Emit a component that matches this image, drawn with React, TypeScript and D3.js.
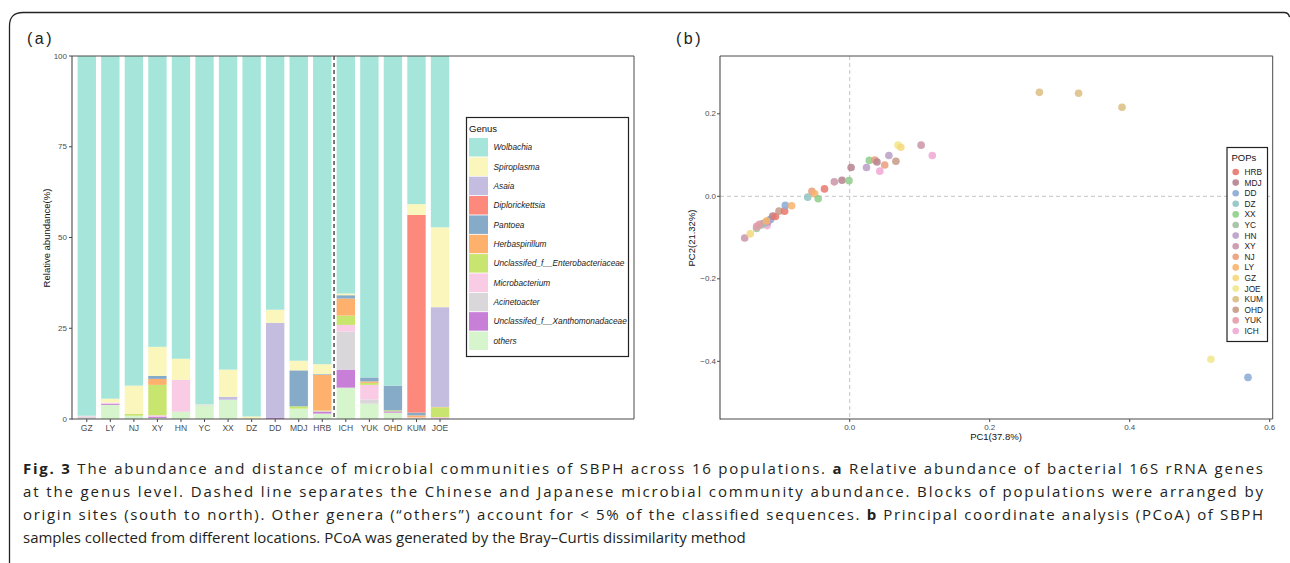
import React from "react";
import * as d3 from "d3";

// ---------- Panel (a) data ----------
const populations = ["GZ","LY","NJ","XY","HN","YC","XX","DZ","DD","MDJ","HRB","ICH","YUK","OHD","KUM","JOE"];
const genera = ["Wolbachia","Spiroplasma","Asaia","Diplorickettsia","Pantoea","Herbaspirillum","Unclassifed_f__Enterobacteriaceae","Microbacterium","Acinetoacter","Unclassifed_f__Xanthomonadaceae","others"];
const genusColors = ["#a6e5d9","#fbf6bb","#c4bde0","#fd887c","#86abc9","#fdb16c","#c8e570","#f9cbe4","#d9d7da","#c77fd8","#d7f5cc"];

const wolbachia     = [99.1,94.4,90.8,80.12,83.4,96.0,86.4,99.3,69.9,83.95,84.9,65.44,88.55,90.8,40.8,47.2];
const spiroplasma   = [0,1.1,7.75,8.0,5.8,0.15,7.5,0.6,3.6,2.65,2.75,0.46,0,0,3.0,22.0];
const asaia         = [0,0,0,0,0,0,0.8,0,26.2,0,0,0,0,0,0,27.3];
const diplorickettsia=[0,0,0,0,0,0,0,0,0,0,0,0,0,0,54.45,0];
const pantoea       = [0,0,0,0.83,0,0,0,0,0,9.9,0.2,0.92,1.1,6.8,0.75,0.15];
const herbaspirillum= [0,0,0,1.65,0,0,0,0,0,0,9.8,4.69,0.4,0,0.55,0.15];
const enterobact    = [0,0,0.55,8.36,0,0,0,0,0,0.65,0.2,2.57,0.55,0.3,0,2.7];
const microbacterium= [0.2,0.3,0,0.37,8.8,0,0,0,0,0,0.1,1.84,4.0,0,0.2,0.4];
const acinetoacter  = [0.7,0,0,0,0,0.15,0,0,0,0,0,10.48,1.2,0,0,0];
const xanthomonad   = [0,0.3,0,0.37,0,0,0,0,0.3,0,0.55,4.96,0,0.35,0,0];
const others        = [0,3.9,0.9,0.3,2.0,3.7,5.3,0.1,0,2.85,1.5,8.64,4.2,1.75,0.25,0.1];

const genusSeries = [wolbachia,spiroplasma,asaia,diplorickettsia,pantoea,herbaspirillum,enterobact,microbacterium,acinetoacter,xanthomonad,others];
const yTicksA = [0,25,50,75,100];

// ---------- Panel (b) data ----------
const popNames = ["HRB","MDJ","DD","DZ","XX","YC","HN","XY","NJ","LY","GZ","JOE","KUM","OHD","YUK","ICH"];
const popColors = ["#e8776c","#b5828f","#88a9d3","#8fc4c1","#8ece8b","#a3bfa1","#b99dc6","#c994a9","#eb9d7a","#f8b36c","#f5d87b","#f1e78b","#dcbd80","#c69a85","#e49aa9","#f1a7d3"];

const samplePop = [
  "KUM","KUM","KUM","JOE","DD",
  "XY","GZ","YC","YUK","OHD","ICH","GZ","DD","MDJ","HRB","OHD","HRB","DD","LY","DZ","DZ","HN",
  "NJ","LY","XX","HRB","XY","MDJ","XX","MDJ","HN","XX","NJ","MDJ","ICH","NJ","HN","OHD","JOE","GZ","XY","ICH","YC","YUK","LY"
];
const samplePC1 = [
  0.271,0.327,0.389,0.516,0.569,
  -0.150,-0.142,-0.133,-0.133,-0.124,-0.118,-0.116,-0.113,-0.110,-0.106,-0.101,-0.093,-0.092,-0.083,-0.060,-0.121,-0.117,
  -0.054,-0.050,-0.045,-0.036,-0.022,-0.011,-0.001,0.002,0.024,0.028,0.036,0.039,0.043,0.050,0.056,0.066,0.069,0.073,0.102,0.118,-0.127,-0.129,-0.119
];
const samplePC2 = [
  0.252,0.250,0.216,-0.395,-0.439,
  -0.101,-0.091,-0.078,-0.073,-0.066,-0.071,-0.058,-0.056,-0.048,-0.049,-0.036,-0.036,-0.022,-0.023,-0.002,-0.065,-0.062,
  0.012,0.006,-0.006,0.018,0.035,0.039,0.038,0.070,0.070,0.087,0.088,0.083,0.061,0.076,0.099,0.085,0.124,0.119,0.124,0.099,-0.070,-0.068,-0.060
];
const xTicksB = [0.0,0.2,0.4,0.6];
const yTicksB = [-0.4,-0.2,0.0,0.2];

const FONT = "'Liberation Sans', Arial, sans-serif";

export default function App() {
  // ----- panel a scales -----
  const xA = d3.scaleBand<string>().domain(populations).range([75, 451.8]).paddingInner(0.22).paddingOuter(0.11);
  const yA = d3.scaleLinear().domain([0, 100]).range([419, 56]);
  const rows = populations.map((p, i) => {
    const r: any = { pop: p };
    genera.forEach((g, k) => { r[g] = genusSeries[k][i]; });
    return r;
  });
  const stackKeys = [...genera].reverse();
  const stacked = d3.stack<any>().keys(stackKeys)(rows);
  const colorOf = (g: string) => genusColors[genera.indexOf(g)];
  const sepX = ((xA("HRB") as number) + xA.bandwidth() / 2 + (xA("ICH") as number) + xA.bandwidth() / 2) / 2;

  // ----- panel b scales -----
  const xB = d3.scaleLinear().domain([0, 0.2]).range([849.7, 989.7]);
  const yB = d3.scaleLinear().domain([0, 0.2]).range([196.3, 113.8]);
  const bL = 720, bR = 1272.7, bT = 56, bB = 419;
  const popColor = (p: string) => popColors[popNames.indexOf(p)];

  const axisCol = "#4a4a4a";
  const tickTxt = "#4d4d4d";

  return (
    <svg width={1290} height={563} style={{ position: "absolute", left: 0, top: 0, background: "#fff" }} fontFamily={FONT}>
      <rect x={0} y={0} width={1290} height={563} fill="#fff" />
      <path d="M9.5,563 L9.5,26 Q9.5,12.5 23,12.5 L1284,12.5 Q1288.5,12.5 1289.5,17" fill="none" stroke="#222" strokeWidth={1.3} />

      {/* ================= Panel a ================= */}
      <text x={27} y={44} fontSize={16} fill="#222" letterSpacing={2.5}>(a)</text>
      {stacked.map((layer) => (
        <g key={layer.key} fill={colorOf(layer.key)}>
          {layer.map((d, i) => {
            const h = yA(d[0]) - yA(d[1]);
            if (h <= 0) return null;
            return <rect key={i} x={xA(populations[i])} y={yA(d[1])} width={xA.bandwidth()} height={h} />;
          })}
        </g>
      ))}
      <line x1={sepX} x2={sepX} y1={56} y2={419} stroke="#333" strokeWidth={1.3} strokeDasharray="4,3" />
      <line x1={72} x2={634} y1={56} y2={56} stroke={axisCol} strokeWidth={1} />
      <line x1={634} x2={634} y1={56} y2={419} stroke={axisCol} strokeWidth={1} />
      <line x1={72} x2={72} y1={56} y2={419.5} stroke={axisCol} strokeWidth={1.1} />
      <line x1={72} x2={634} y1={419} y2={419} stroke={axisCol} strokeWidth={1.1} />
      {yTicksA.map((t) => (
        <g key={t}>
          <line x1={69} x2={72} y1={yA(t)} y2={yA(t)} stroke={axisCol} />
          <text x={67} y={yA(t)} dy="0.33em" textAnchor="end" fontSize={8} fill={tickTxt}>{t}</text>
        </g>
      ))}
      {populations.map((p) => {
        const cx = (xA(p) as number) + xA.bandwidth() / 2;
        return (
          <g key={p}>
            <line x1={cx} x2={cx} y1={419} y2={422} stroke={axisCol} />
            <text x={cx} y={431} textAnchor="middle" fontSize={8.5} fill={tickTxt}>{p}</text>
          </g>
        );
      })}
      <text transform="translate(50,238) rotate(-90)" textAnchor="middle" fontSize={9.5} fill="#111">Relative abundance(%)</text>

      {/* legend a */}
      <rect x={466.5} y={117.5} width={162} height={239} fill="#fff" stroke="#222" strokeWidth={1.2} />
      <text x={469} y={132} fontSize={9.5} fill="#111">Genus</text>
      {genera.map((g, k) => (
        <g key={g}>
          <rect x={469} y={138 + k * 19.35} width={19} height={18.5} fill={genusColors[k]} />
          <text x={493.5} y={138 + k * 19.35 + 9.25} dy="0.35em" fontSize={8.3} fontStyle="italic" fill="#1a1a1a">{g}</text>
        </g>
      ))}

      {/* ================= Panel b ================= */}
      <text x={676} y={44} fontSize={16} fill="#222" letterSpacing={2.5}>(b)</text>
      <line x1={xB(0)} x2={xB(0)} y1={bT} y2={bB} stroke="#c4c4c4" strokeWidth={1} strokeDasharray="4,3" />
      <line x1={bL} x2={bR} y1={yB(0)} y2={yB(0)} stroke="#c4c4c4" strokeWidth={1} strokeDasharray="4,3" />
      {samplePop.map((p, i) => (
        <circle key={i} cx={xB(samplePC1[i])} cy={yB(samplePC2[i])} r={3.8} fill={popColor(p)} fillOpacity={0.85} />
      ))}
      <line x1={bL} x2={bR} y1={bT} y2={bT} stroke={axisCol} strokeWidth={1} />
      <line x1={bR} x2={bR} y1={bT} y2={bB} stroke={axisCol} strokeWidth={1} />
      <line x1={bL} x2={bL} y1={bT} y2={bB + 0.5} stroke={axisCol} strokeWidth={1.1} />
      <line x1={bL} x2={bR} y1={bB} y2={bB} stroke={axisCol} strokeWidth={1.1} />
      {yTicksB.map((t) => (
        <g key={t}>
          <line x1={bL - 3} x2={bL} y1={yB(t)} y2={yB(t)} stroke={axisCol} />
          <text x={bL - 4} y={yB(t)} dy="0.33em" textAnchor="end" fontSize={8} fill={tickTxt}>{d3.format(".1f")(t)}</text>
        </g>
      ))}
      {xTicksB.map((t) => (
        <g key={t}>
          <line x1={xB(t)} x2={xB(t)} y1={bB} y2={bB + 3} stroke={axisCol} />
          <text x={xB(t)} y={430} textAnchor="middle" fontSize={8} fill={tickTxt}>{d3.format(".1f")(t)}</text>
        </g>
      ))}
      <text x={996} y={440} textAnchor="middle" fontSize={9.5} fill="#111">PC1(37.8%)</text>
      <text transform="translate(695,238) rotate(-90)" textAnchor="middle" fontSize={9.5} fill="#111">PC2(21.32%)</text>

      {/* legend b */}
      <rect x={1227} y={147.5} width={40.5} height={194} fill="#fff" stroke="#222" strokeWidth={1.2} />
      <text x={1231.5} y={161} fontSize={9.5} fill="#111">POPs</text>
      {popNames.map((p, k) => (
        <g key={p}>
          <circle cx={1235.7} cy={172 + k * 10.6} r={3.3} fill={popColors[k]} fillOpacity={0.9} />
          <text x={1244.5} y={172 + k * 10.6} dy="0.35em" fontSize={8.3} fill="#222">{p}</text>
        </g>
      ))}

      {/* ================= Caption ================= */}
      <g fontFamily="'Open Sans', 'Noto Sans', sans-serif" fontSize={15} fill="#231f20">
        <text x={23} y={474} textLength={1240} lengthAdjust="spacing"><tspan fontWeight="bold">Fig. 3</tspan> The abundance and distance of microbial communities of SBPH across 16 populations. <tspan fontWeight="bold">a</tspan> Relative abundance of bacterial 16S rRNA genes</text>
        <text x={23} y={497} textLength={1240} lengthAdjust="spacing">at the genus level. Dashed line separates the Chinese and Japanese microbial community abundance. Blocks of populations were arranged by</text>
        <text x={23} y={520} textLength={1240} lengthAdjust="spacing">origin sites (south to north). Other genera (“others”) account for &lt; 5% of the classified sequences. <tspan fontWeight="bold">b</tspan> Principal coordinate analysis (PCoA) of SBPH</text>
        <text x={23} y={543}>samples collected from different locations. PCoA was generated by the Bray–Curtis dissimilarity method</text>
      </g>
    </svg>
  );
}
